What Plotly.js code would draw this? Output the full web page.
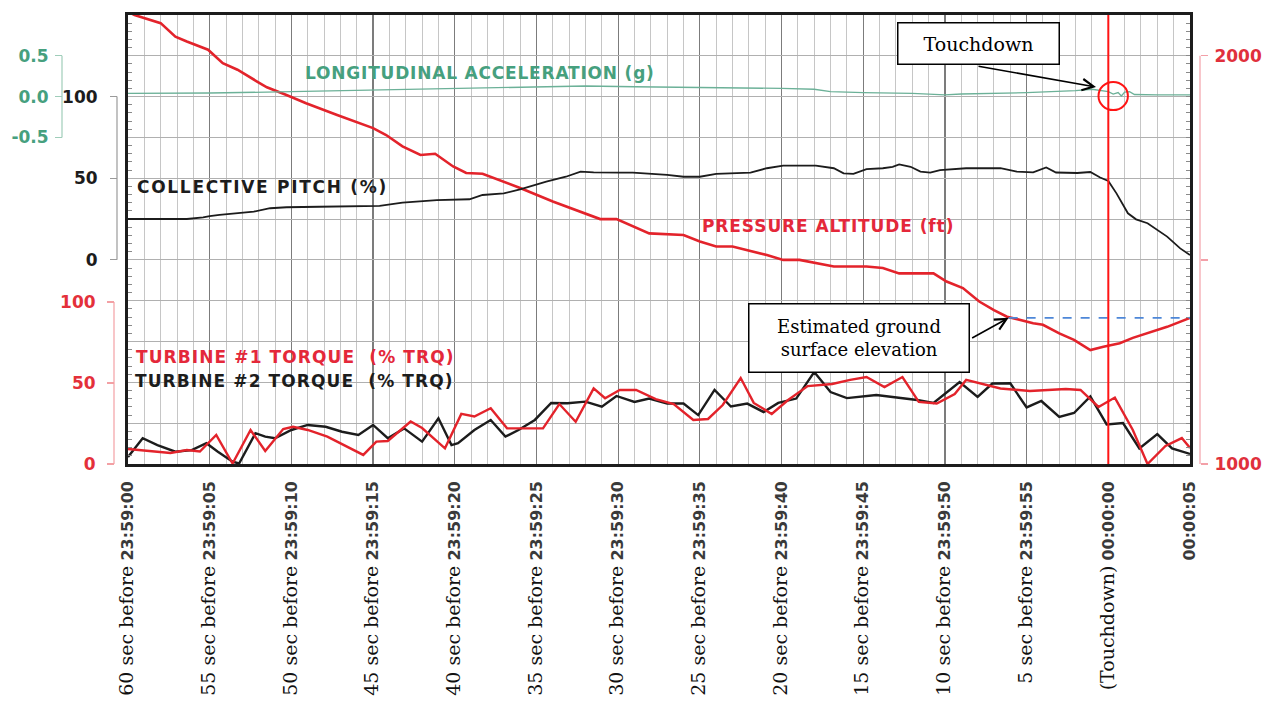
<!DOCTYPE html>
<html>
<head>
<meta charset="utf-8">
<script src="https://cdn.plot.ly/plotly-3.0.1.min.js"></script>
<style>
  html, body { margin: 0; padding: 0; background: #ffffff; }
  #chart { width: 1266px; height: 707px; }
</style>
</head>
<body>
<div id="chart"></div>
<script>
// ---- Flight data, seconds relative to touchdown ----

// Pressure altitude (ft)
const pressureTime = [-60.0, -59.6, -58.0, -57.1, -56.4, -55.1, -54.2, -53.3, -52.1, -51.5, -50.3, -49.1, -47.2, -46.2, -45.0, -44.2, -43.2, -42.1, -41.2, -40.1, -39.3, -38.3, -36.0, -34.0, -31.1, -30.1, -29.1, -28.1, -26.0, -25.0, -24.0, -23.0, -20.9, -19.9, -18.9, -16.8, -14.8, -13.8, -12.8, -10.7, -9.9, -8.9, -7.9, -7.0, -6.2, -5.4, -4.6, -4.0, -3.0, -2.1, -1.1, -0.3, 0.7, 1.5, 2.6, 3.6, 5.0];
const pressureFt = [2108, 2100, 2080, 2047, 2035, 2015, 1982, 1966, 1937, 1923, 1904, 1884, 1855, 1841, 1823, 1806, 1778, 1757, 1760, 1729, 1713, 1711, 1676, 1643, 1600, 1600, 1582, 1565, 1561, 1545, 1533, 1533, 1512, 1500, 1500, 1484, 1484, 1480, 1467, 1467, 1447, 1431, 1398, 1377, 1361, 1353, 1345, 1341, 1320, 1304, 1279, 1287, 1296, 1309, 1324, 1336, 1358];

// Collective pitch (%)
const collectiveTime = [-60.0, -58.5, -56.4, -55.4, -55.0, -54.4, -52.3, -51.3, -50.3, -48.3, -46.2, -44.6, -43.2, -41.1, -39.1, -38.3, -37.0, -36.0, -34.4, -33.2, -32.3, -31.5, -29.9, -29.1, -27.0, -26.0, -25.0, -24.0, -21.9, -20.9, -19.9, -17.9, -16.8, -16.2, -15.6, -14.8, -13.8, -13.2, -12.8, -12.1, -11.5, -10.9, -10.3, -8.7, -6.6, -5.6, -4.6, -3.8, -3.2, -1.9, -1.1, -0.5, 0.0, 0.5, 1.2, 1.7, 2.4, 3.6, 4.4, 5.0];
const collectivePct = [25.0, 25.0, 25.0, 26.0, 26.8, 27.5, 29.5, 31.6, 32.2, 32.5, 33.0, 33.1, 35.0, 36.6, 37.1, 39.7, 40.7, 43.2, 47.9, 50.9, 54.0, 53.6, 53.4, 53.4, 52.0, 50.9, 50.9, 52.6, 53.4, 56.1, 57.7, 57.7, 56.1, 53.0, 52.6, 55.5, 56.1, 57.0, 58.5, 57.0, 54.0, 53.4, 55.0, 56.1, 56.1, 54.0, 53.6, 56.6, 53.5, 53.2, 53.8, 50.4, 48.3, 40.7, 28.5, 24.8, 22.4, 14.2, 7.0, 2.9];

// Longitudinal acceleration (g)
const accelTime = [-60, -55, -50, -45, -40, -35, -32, -29, -25, -20, -18, -17, -15, -12, -10, -9, -5, -2, -1, 0, 0.3, 0.6, 0.8, 1.0, 1.3, 1.6, 3, 5];
const accelG = [0.040, 0.044, 0.060, 0.080, 0.093, 0.118, 0.130, 0.121, 0.114, 0.100, 0.090, 0.060, 0.048, 0.040, 0.020, 0.032, 0.048, 0.072, 0.090, 0.060, 0.030, 0.050, 0.007, 0.056, 0.060, 0.026, 0.020, 0.020];

// Turbine #1 torque (%)
const torque1Time = [-60.0, -58.5, -57.4, -56.4, -55.6, -54.6, -53.6, -52.5, -51.6, -50.5, -49.9, -49.0, -47.8, -45.6, -44.8, -44.1, -42.7, -42.0, -40.6, -39.6, -38.8, -37.8, -36.8, -34.6, -33.6, -32.6, -31.5, -30.8, -29.9, -28.9, -27.7, -26.6, -25.4, -24.5, -23.6, -22.5, -21.7, -20.6, -19.6, -18.4, -16.9, -15.8, -14.8, -13.7, -12.6, -11.6, -10.5, -9.4, -8.7, -6.6, -4.8, -2.6, -1.7, -0.6, 0.4, 1.5, 2.4, 3.5, 4.5, 5.0];
const torque1Pct = [9.3, 7.7, 6.8, 8.6, 7.7, 17.9, 0.3, 21.0, 8.0, 21.6, 23.0, 21.0, 16.9, 5.6, 13.8, 14.2, 26.2, 22.2, 9.7, 30.9, 29.3, 34.4, 22.0, 22.0, 37.0, 26.1, 46.7, 40.6, 45.7, 45.7, 40.1, 37.0, 27.2, 27.8, 36.4, 53.1, 37.7, 30.9, 39.5, 48.1, 49.4, 51.9, 53.7, 47.5, 53.7, 38.3, 37.3, 43.2, 51.9, 46.6, 45.1, 46.3, 45.7, 35.2, 41.0, 21.0, 0.0, 11.1, 16.0, 9.9];

// Turbine #2 torque (%)
const torque2Time = [-60.0, -59.1, -58.2, -57.1, -56.1, -55.2, -54.5, -53.6, -53.2, -52.2, -51.6, -51.0, -50.0, -49.0, -47.9, -46.9, -45.9, -45.0, -44.1, -43.1, -42.0, -41.0, -40.2, -39.8, -38.8, -37.8, -36.9, -36.1, -35.1, -34.1, -33.1, -32.0, -31.0, -30.1, -29.0, -28.1, -27.0, -26.0, -25.1, -24.1, -23.1, -22.1, -21.1, -20.2, -19.1, -18.0, -17.0, -16.0, -14.2, -11.7, -10.7, -9.1, -8.0, -7.1, -6.0, -5.0, -4.1, -3.0, -2.1, -1.1, -0.1, 0.9, 1.9, 3.0, 3.9, 5.0];
const torque2Pct = [4.3, 15.9, 11.7, 7.6, 8.6, 12.8, 7.6, 1.4, 0.3, 19.0, 16.9, 15.9, 21.0, 24.1, 23.0, 19.9, 17.9, 24.1, 15.9, 22.0, 13.8, 28.2, 11.7, 12.8, 21.0, 27.2, 16.9, 21.0, 27.2, 37.7, 37.5, 38.5, 35.4, 42.0, 38.3, 40.4, 37.3, 37.3, 30.2, 45.7, 35.5, 37.3, 32.1, 37.7, 40.4, 56.8, 44.4, 40.7, 42.6, 39.5, 37.7, 50.6, 41.4, 49.7, 49.8, 34.9, 38.9, 29.0, 31.5, 41.7, 24.4, 25.3, 9.6, 18.5, 9.6, 6.2];

// Time axis labels
const tickSeconds = [-60, -55, -50, -45, -40, -35, -30, -25, -20, -15, -10, -5, 0, 5];
const tickLead = ['60 sec before', '55 sec before', '50 sec before', '45 sec before', '40 sec before', '35 sec before', '30 sec before', '25 sec before', '20 sec before', '15 sec before', '10 sec before', '5 sec before', '(Touchdown)', ''];
const tickClock = ['23:59:00', '23:59:05', '23:59:10', '23:59:15', '23:59:20', '23:59:25', '23:59:30', '23:59:35', '23:59:40', '23:59:45', '23:59:50', '23:59:55', '00:00:00', '00:00:05'];

// Axis scales
const accelTicks = [-0.5, 0, 0.5];
const accelTickText = ['-0.5', '0.0', '0.5'];
const pctTicks = [0, 50, 100];
const pressureTicks = [1000, 1500, 2000];
const pressureTickText = ['1000', '', '2000'];
const pressureRange = [1000, 2100];      // the grid is drawn every 100 ft

// Reference events
const touchdownTime = 0;
const groundElevationFt = 1358;
const groundMarkTime = -6.1;

// ---- Drawing ----
const W = 1266, H = 707;
const TOP = 15, BOTTOM = 464;            // plot area rows
const LEFT = 128, RIGHT = 1190;          // plot area columns
const plotH = BOTTOM - TOP;
const px = x => x / W;                   // column -> paper x
const py = y => (BOTTOM - y) / plotH;    // row -> paper y

const RED = '#e3232b';
const GREEN_TXT = '#46a07e';
const GREEN_LINE = '#6cb198';
const INK = '#1c1c1c';

const ticktext = tickLead.map((s, i) =>
  (s ? '<span style="font-family:DejaVu Serif;font-weight:normal;font-size:19px;color:#111">' + s + '</span> ' : '') +
  '<b>' + tickClock[i] + '</b>');

const traces = [
  { x: pressureTime, y: pressureFt, yaxis: 'y', mode: 'lines',
    line: { color: RED, width: 2.6 }, hoverinfo: 'skip' },
  // the same series registered on the right-hand scales (nothing drawn)
  { x: pressureTime, y: pressureFt, yaxis: 'y5', mode: 'none', hoverinfo: 'skip' },
  { x: pressureTime, y: pressureFt, yaxis: 'y6', mode: 'none', hoverinfo: 'skip' },
  { x: torque2Time, y: torque2Pct, yaxis: 'y4', mode: 'lines',
    line: { color: INK, width: 2.4 }, hoverinfo: 'skip' },
  { x: torque1Time, y: torque1Pct, yaxis: 'y4', mode: 'lines',
    line: { color: RED, width: 2.4 }, hoverinfo: 'skip' },
  { x: collectiveTime, y: collectivePct, yaxis: 'y3', mode: 'lines',
    line: { color: INK, width: 1.8 }, hoverinfo: 'skip' },
  { x: accelTime, y: accelG, yaxis: 'y2', mode: 'lines',
    line: { color: GREEN_LINE, width: 1.3 }, hoverinfo: 'skip' }
];

const tickFontBold = (color) => ({ family: 'DejaVu Sans', size: 17, color: color, weight: 'bold' });

function sideAxis(range, tickvals, ticktextArr, color, lineColor, pos, standoff, side) {
  return {
    overlaying: 'y', anchor: 'free', position: pos, side: side || 'left',
    range: range, tickmode: 'array', tickvals: tickvals, ticktext: ticktextArr,
    ticks: 'outside', ticklen: 7, tickwidth: 1.2, tickcolor: lineColor,
    ticklabelstandoff: standoff,
    showline: false, showgrid: false, zeroline: false,
    tickfont: tickFontBold(color), fixedrange: true
  };
}

function label(text, x, y, size, spacing, color) {
  return { xref: 'paper', yref: 'paper', x: px(x), y: py(y), xanchor: 'left', yanchor: 'middle', showarrow: false,
    text: '<span style="letter-spacing:' + spacing + 'px">' + text + '</span>',
    font: { family: 'DejaVu Sans', size: size, color: color, weight: 'bold' } };
}

// ranges chosen so each scale sits on its band of the shared grid
const layout = {
  width: W, height: H,
  margin: { l: 0, r: 0, t: TOP, b: H - BOTTOM },
  paper_bgcolor: '#ffffff',
  plot_bgcolor: '#ffffff',
  showlegend: false,
  xaxis: {
    domain: [px(LEFT), px(RIGHT)], range: [-60, 5],
    tickmode: 'array', tickvals: tickSeconds, ticktext: ticktext,
    tickangle: -90, ticks: '', ticklabelstandoff: 8,
    tickfont: { family: 'DejaVu Sans', size: 16, color: '#3a3a3a' },
    showgrid: true, gridcolor: '#7c7c7c', gridwidth: 1.3,
    minor: { tickmode: 'linear', tick0: -60, dtick: 1, showgrid: true, gridcolor: '#c6c6c6', gridwidth: 1 },
    showline: true, mirror: true, linecolor: INK, linewidth: 2.6,
    zeroline: false, fixedrange: true
  },
  // pressure altitude carries the chart grid and the frame
  yaxis: {
    domain: [0, 1], range: pressureRange,
    tickmode: 'linear', tick0: 1000, dtick: 100,
    showticklabels: false, ticks: '',
    minor: { tickmode: 'linear', tick0: 1000, dtick: 20, ticks: 'inside', ticklen: 4, tickwidth: 1, tickcolor: '#8a8a8a', showgrid: false },
    showgrid: true, gridcolor: '#b0b0b0', gridwidth: 1,
    showline: true, mirror: 'allticks', linecolor: INK, linewidth: 2.6,
    zeroline: false, fixedrange: true
  },
  // longitudinal acceleration: 0 g on row 96.6, 81.6 px per g
  yaxis2: sideAxis([-(BOTTOM - 96.6) / 81.6, (96.6 - TOP) / 81.6], accelTicks, accelTickText, GREEN_TXT, '#9fcdb9', px(62), 3),
  // collective: 0 % on row 259.8, 1.632 px per %
  yaxis3: sideAxis([-(BOTTOM - 259.8) / 1.632, (259.8 - TOP) / 1.632], pctTicks, pctTicks.map(String), INK, '#9a9a9a', px(117), 9),
  // torque: 0 % on bottom row, 1.62 px per %
  yaxis4: sideAxis([0, plotH / 1.62], pctTicks, pctTicks.map(String), '#e4303a', '#f3a0a4', px(114), 8),
  // pressure altitude scale on the right
  yaxis5: sideAxis(pressureRange, pressureTicks, pressureTickText, '#e0303c', '#f3a0a8', px(1200), 3, 'right'),
  // right edge of the frame with its small inner ticks
  yaxis6: {
    overlaying: 'y', anchor: 'x', side: 'right', range: pressureRange,
    tickmode: 'linear', tick0: 1000, dtick: 20, ticks: 'inside', ticklen: 4, tickwidth: 1, tickcolor: '#8a8a8a',
    showticklabels: false, showline: true, linecolor: INK, linewidth: 2.6,
    showgrid: false, zeroline: false, fixedrange: true
  },
  shapes: [
    // scale spines, drawn only between their end ticks
    { type: 'line', xref: 'paper', yref: 'y2', x0: px(62), x1: px(62), y0: -0.5, y1: 0.5, line: { color: '#9fcdb9', width: 1.2 } },
    { type: 'line', xref: 'paper', yref: 'y3', x0: px(117), x1: px(117), y0: 0, y1: 100, line: { color: '#9a9a9a', width: 1.2 } },
    { type: 'line', xref: 'paper', yref: 'y4', x0: px(114), x1: px(114), y0: 0, y1: 100, line: { color: '#f3a0a4', width: 1.2 } },
    { type: 'line', xref: 'paper', yref: 'y', x0: px(1200), x1: px(1200), y0: 1000, y1: 2000, line: { color: '#f3a0a8', width: 1.2 } },
    // estimated ground surface elevation
    { type: 'line', xref: 'x', yref: 'y', x0: groundMarkTime, x1: 5, y0: groundElevationFt, y1: groundElevationFt,
      line: { color: '#4d87d8', width: 1.6, dash: 'dash' } },
    // touchdown instant
    { type: 'line', xref: 'x', yref: 'paper', x0: touchdownTime, x1: touchdownTime, y0: 0, y1: 1,
      line: { color: '#ff1414', width: 2 } },
    { type: 'circle', xref: 'x', yref: 'y2', x0: touchdownTime - 0.6, x1: touchdownTime + 1.2, y0: -0.165, y1: 0.18,
      line: { color: '#ff1414', width: 2 } }
  ],
  annotations: [
    label('LONGITUDINAL ACCELERATION (g)', 303, 73, 17, 0.8, GREEN_TXT),
    label('COLLECTIVE PITCH (%)', 135, 187, 17, 1.7, INK),
    label('PRESSURE ALTITUDE (ft)', 700, 226, 17, 0.9, '#e4283a'),
    label('TURBINE #1 TORQUE  (% TRQ)', 134, 357, 17, 1.1, '#e4283a'),
    label('TURBINE #2 TORQUE  (% TRQ)', 133, 381, 17, 1.1, INK),
    // callout boxes
    { xref: 'paper', yref: 'paper', x: px(978.5), y: py(44), xanchor: 'center', yanchor: 'middle', showarrow: false,
      text: 'Touchdown', width: 160, height: 40, borderpad: 0, bordercolor: '#000', borderwidth: 1.5, bgcolor: '#fff',
      font: { family: 'DejaVu Serif', size: 19, color: '#000' } },
    { xref: 'paper', yref: 'paper', x: px(1096), y: py(87), ax: -119, ay: -21, text: '', showarrow: true,
      arrowhead: 5, arrowsize: 1.4, arrowwidth: 1.6, arrowcolor: '#000', standoff: 0, startstandoff: 0 },
    { xref: 'paper', yref: 'paper', x: px(859), y: py(338), xanchor: 'center', yanchor: 'middle', showarrow: false,
      text: 'Estimated ground<br>surface elevation', width: 219, height: 67, borderpad: 0, bordercolor: '#000', borderwidth: 1.5, bgcolor: '#fff',
      font: { family: 'DejaVu Serif', size: 18, color: '#000' } },
    { xref: 'x', yref: 'y', x: groundMarkTime, y: groundElevationFt, ax: -38, ay: 21, text: '', showarrow: true,
      arrowhead: 5, arrowsize: 1.4, arrowwidth: 1.6, arrowcolor: '#000', standoff: 0, startstandoff: 0 }
  ]
};

Plotly.newPlot('chart', traces, layout, { displayModeBar: false, staticPlot: true });
</script>
</body>
</html>
